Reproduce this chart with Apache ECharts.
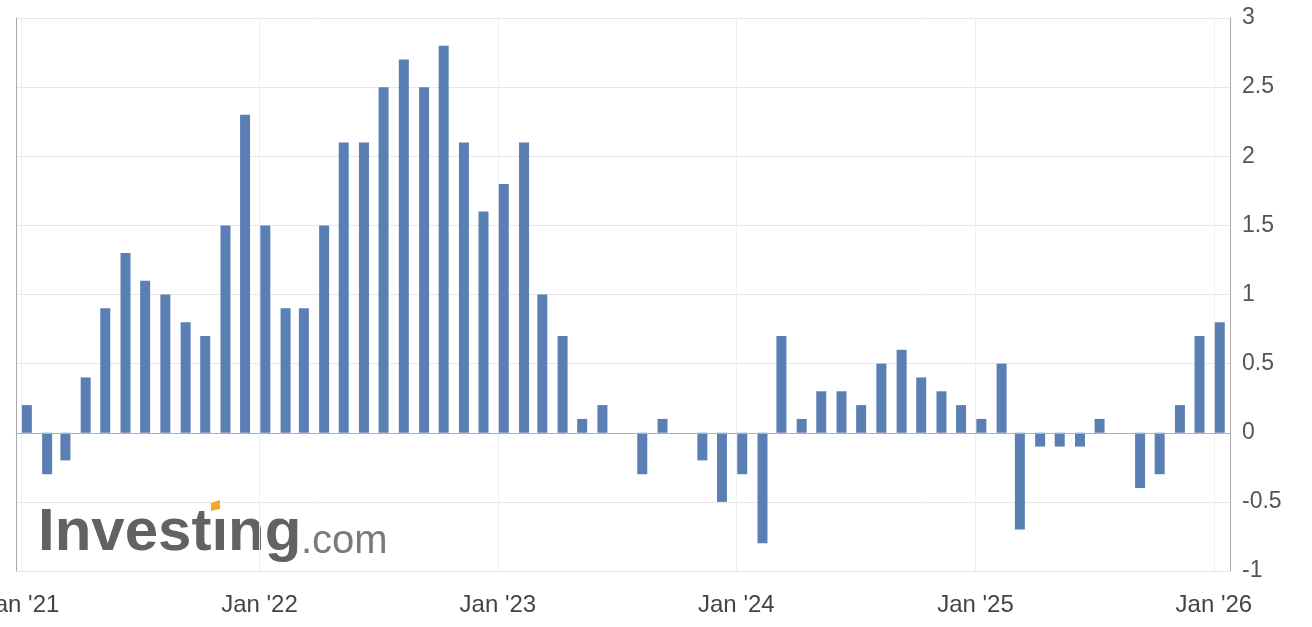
<!DOCTYPE html>
<html>
<head>
<meta charset="utf-8">
<script src="https://cdn.jsdelivr.net/npm/echarts@6/dist/echarts.min.js"></script>
<style>
  html, body { margin: 0; padding: 0; background: #fff; }
  #chart { width: 1312px; height: 627px; }
</style>
</head>
<body>
<div id="chart"></div>
<script>
// monthly readings, Jan '21 .. Jan '26
const months = [
  '2021-01','2021-02','2021-03','2021-04','2021-05','2021-06','2021-07','2021-08','2021-09','2021-10','2021-11','2021-12',
  '2022-01','2022-02','2022-03','2022-04','2022-05','2022-06','2022-07','2022-08','2022-09','2022-10','2022-11','2022-12',
  '2023-01','2023-02','2023-03','2023-04','2023-05','2023-06','2023-07','2023-08','2023-09','2023-10','2023-11','2023-12',
  '2024-01','2024-02','2024-03','2024-04','2024-05','2024-06','2024-07','2024-08','2024-09','2024-10','2024-11','2024-12',
  '2025-01','2025-02','2025-03','2025-04','2025-05','2025-06','2025-07','2025-08','2025-09','2025-10','2025-11','2025-12',
  '2026-01'
];
const values2021 = [0.2, -0.3, -0.2, 0.4, 0.9, 1.3, 1.1, 1.0, 0.8, 0.7, 1.5, 2.3];
const values2022 = [1.5, 0.9, 0.9, 1.5, 2.1, 2.1, 2.5, 2.7, 2.5, 2.8, 2.1, 1.6];
const values2023 = [1.8, 2.1, 1.0, 0.7, 0.1, 0.2, 0.0, -0.3, 0.1, 0.0, -0.2, -0.5];
const values2024 = [-0.3, -0.8, 0.7, 0.1, 0.3, 0.3, 0.2, 0.5, 0.6, 0.4, 0.3, 0.2];
const values2025 = [0.1, 0.5, -0.7, -0.1, -0.1, -0.1, 0.1, 0.0, -0.4, -0.3, 0.2, 0.7];
const values2026 = [0.8];
const yTicks = { min: -1, max: 3, step: 0.5 };
const monthNames = ['Jan','Feb','Mar','Apr','May','Jun','Jul','Aug','Sep','Oct','Nov','Dec'];

const values = [].concat(values2021, values2022, values2023, values2024, values2025, values2026);
const points = months.map((m, i) => [m + '-10', values[i]]);
const DAY = 24 * 3600 * 1000;

const chart = echarts.init(document.getElementById('chart'));
const option = {
  animation: false,
  backgroundColor: '#fff',
  textStyle: { fontFamily: 'Liberation Sans, Arial, sans-serif' },
  grid: { left: 16, right: 82, top: 18, bottom: 56, containLabel: false, outerBoundsMode: 'none' },
  xAxis: {
    type: 'time',
    // bar overflow padding widens this a little on each side
    min: +new Date(2021, 0, 1),
    max: +new Date(2026, 0, 18),
    minInterval: 365 * DAY,
    maxInterval: 366 * DAY,
    axisLine: { show: true, lineStyle: { color: '#bbb' } },
    axisTick: { show: false },
    splitLine: { show: true, lineStyle: { color: '#efefef' } },
    axisLabel: {
      color: '#444',
      fontSize: 24,
      margin: 22,
      hideOverlap: false,
      formatter: function (v) {
        const d = new Date(v);
        return monthNames[d.getMonth()] + " '" + String(d.getFullYear()).slice(2);
      }
    }
  },
  yAxis: [{
    type: 'value',
    position: 'right',
    min: yTicks.min, max: yTicks.max, interval: yTicks.step,
    axisLine: { show: true, lineStyle: { color: '#aaa' } },
    axisTick: { show: false },
    axisLabel: { color: '#555', fontSize: 23, margin: 12 },
    splitLine: { show: true, lineStyle: { color: '#e8e8e8' } }
  }, {
    type: 'value',
    position: 'left',
    min: yTicks.min, max: yTicks.max, interval: yTicks.step,
    axisLine: { show: true, lineStyle: { color: '#aaa' } },
    axisTick: { show: false },
    axisLabel: { show: false },
    splitLine: { show: false }
  }],
  series: [{
    type: 'bar',
    yAxisIndex: 0,
    data: points,
    barWidth: 10,
    itemStyle: { color: '#5a7fb5' },
    markLine: {
      silent: true,
      symbol: 'none',
      label: { show: false },
      lineStyle: { color: '#b0b0b0', type: 'solid', width: 1 },
      data: [{ yAxis: 0 }]
    }
  }],
  graphic: [
    {
      // dotless i, the dot is the orange mark below
      type: 'text', left: 38, top: 503, z: 0,
      style: { text: 'Invest\u0131ng', fill: '#626262', font: 'bold 60px "Liberation Sans", Arial, sans-serif' }
    },
    {
      type: 'text', left: 301, top: 522, z: 0,
      style: { text: '.com', fill: '#7a7a7a', font: '40px "Liberation Sans", Arial, sans-serif' }
    },
    {
      type: 'polygon', z: 2,
      shape: { points: [[211, 503], [220, 500], [220, 509], [211, 511]] },
      style: { fill: '#f2aa2c' }
    }
  ]
};
chart.setOption(option);
window.addEventListener('resize', function () { chart.resize(); });
</script>
</body>
</html>
